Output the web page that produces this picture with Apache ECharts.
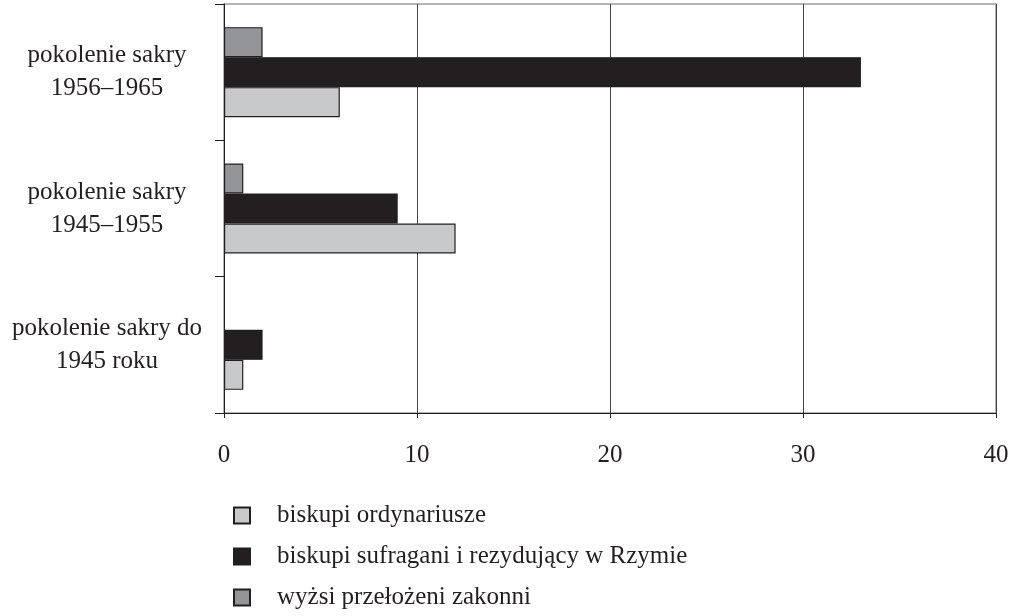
<!DOCTYPE html>
<html>
<head>
<meta charset="utf-8">
<script src="https://cdn.jsdelivr.net/npm/echarts@6/dist/echarts.min.js"></script>
<style>html,body{margin:0;padding:0;background:#fff}#c{width:1016px;height:616px}</style>
</head>
<body>
<div id="c"></div>
<script>
var categories = ['pokolenie sakry do\n1945 roku', 'pokolenie sakry\n1945–1955', 'pokolenie sakry\n1956–1965'];
var seriesNames = ['biskupi ordynariusze', 'biskupi sufragani i rezydujący w Rzymie', 'wyżsi przełożeni zakonni'];
var ordynariusze = [1, 12, 6];
var sufragani = [2, 9, 33];
var zakonni = [0, 1, 2];
var xTicks = [0, 10, 20, 30, 40];

var FONT = '"Liberation Serif", "DejaVu Serif", serif';
var INK = '#231f20';
var colors = ['#c8c9cb', '#231f20', '#939598'];
var values = [ordynariusze, sufragani, zakonni];

function toData(arr) {
  return arr.map(function (v) {
    return v === 0 ? {value: v, itemStyle: {borderWidth: 0}} : v;
  });
}

// ECharts places the first series at the top of a horizontal band; the reference
// has the first legend entry at the bottom, so series are added in reverse.
var series = [];
for (var i = seriesNames.length - 1; i >= 0; i--) {
  series.push({
    name: seriesNames[i], type: 'bar', data: toData(values[i]),
    barWidth: 30, barGap: '0%',
    itemStyle: {color: colors[i], borderColor: INK, borderWidth: 1.2}
  });
}

var chart = echarts.init(document.getElementById('c'));
chart.setOption({
  animation: false,
  grid: {left: 224, right: 20, top: 4, bottom: 203, show: true, borderColor: '#9a9a9a', borderWidth: 1.5},
  xAxis: {
    type: 'value', min: xTicks[0], max: xTicks[xTicks.length - 1], interval: 10,
    axisLine: {show: true, lineStyle: {color: INK, width: 1}},
    axisTick: {show: true, length: 5, lineStyle: {color: INK}},
    splitLine: {show: true, lineStyle: {color: '#444', width: 1}},
    axisLabel: {fontFamily: FONT, fontSize: 25, color: INK, margin: 30}
  },
  yAxis: {
    type: 'category', data: categories,
    axisLine: {show: true, lineStyle: {color: INK, width: 1}},
    axisTick: {show: true, length: 9, lineStyle: {color: INK}},
    axisLabel: {fontFamily: FONT, fontSize: 25, color: INK, align: 'center', margin: 117, lineHeight: 33, padding: [6, 0, 0, 0]}
  },
  legend: {
    orient: 'vertical', left: 233, top: 503, padding: 0,
    itemWidth: 16, itemHeight: 16, itemGap: 16,
    icon: 'rect',
    textStyle: {fontFamily: FONT, fontSize: 25, color: INK, padding: [0, 0, 0, 22], lineHeight: 24},
    data: seriesNames
  },
  series: series
});
</script>
</body>
</html>
